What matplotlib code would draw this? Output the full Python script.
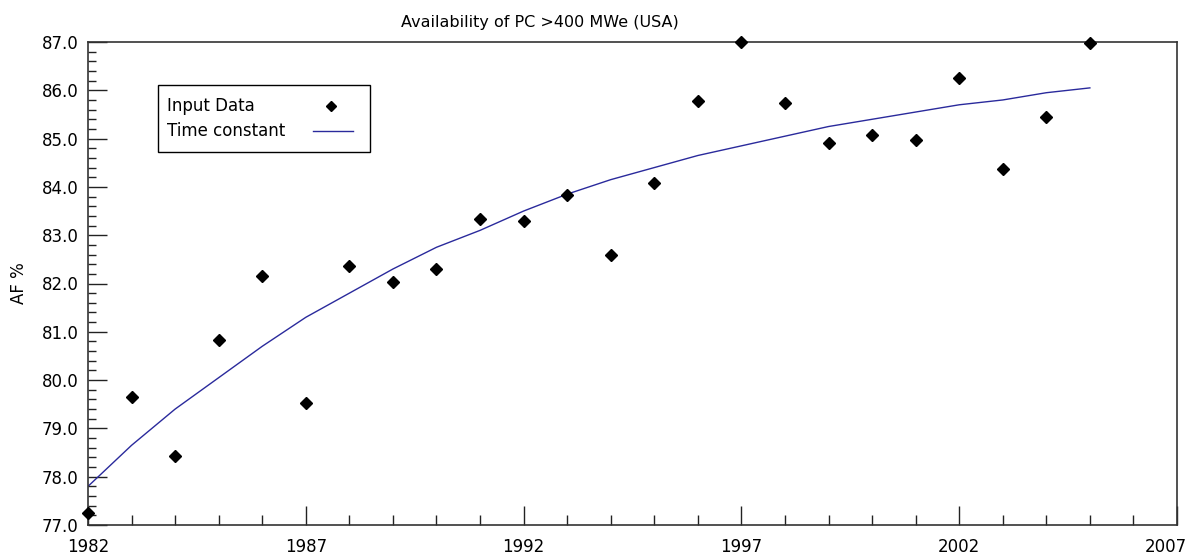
import matplotlib.pyplot as plt
from matplotlib.ticker import MultipleLocator, FormatStrFormatter
from matplotlib.patches import Rectangle
from matplotlib.lines import Line2D
from matplotlib.transforms import ScaledTranslation

# values
years = list(range(1982, 2006))
af_input = [77.25, 79.65, 78.42, 80.83, 82.15, 79.53, 82.36, 82.03, 82.30, 83.33,
            83.29, 83.84, 82.59, 84.08, 85.77, 87.00, 85.74, 84.91, 85.07, 84.97,
            86.25, 84.37, 85.45, 86.98]
af_fit = [77.80, 78.65, 79.40, 80.05, 80.70, 81.30, 81.80, 82.30, 82.75, 83.10,
          83.50, 83.85, 84.15, 84.40, 84.65, 84.85, 85.05, 85.25, 85.40, 85.55,
          85.70, 85.80, 85.95, 86.05]
x_major = [1982, 1987, 1992, 1997, 2002, 2007]
legend_labels = ['Input Data', 'Time constant']

W, H = 1194, 559
plt.rcParams['font.family'] = ['DejaVu Sans']
plt.rcParams['font.size'] = 12

fig = plt.figure(figsize=(W / 100, H / 100), dpi=100)
ax = fig.add_axes([88 / W, 1 - 525 / H, 1089 / W, 483 / H])

line_color = '#2a2a9c'
ax.plot(years, af_input, linestyle='none', marker='D', markersize=6,
        color='black', clip_on=False, zorder=3)
ax.plot(years, af_fit, color=line_color, linewidth=1.0)

ax.set_xlim(1982, 2007)
ax.set_ylim(77, 87)
ax.set_xticks(x_major)
ax.xaxis.set_minor_locator(MultipleLocator(1))
ax.yaxis.set_major_locator(MultipleLocator(1))
ax.yaxis.set_minor_locator(MultipleLocator(0.2))
ax.yaxis.set_major_formatter(FormatStrFormatter('%.1f'))
ax.tick_params(which='both', direction='in', top=False, right=False,
               color='#222222', width=1)
ax.tick_params(axis='y', which='major', length=14, pad=7)
ax.tick_params(axis='y', which='minor', length=6)
ax.tick_params(axis='x', which='major', length=14, pad=9)
ax.tick_params(axis='x', which='minor', length=7)
for sp in ax.spines.values():
    sp.set_color('#333333')
    sp.set_linewidth(1.2)

# last year label sits a bit left of its tick, inside the picture
last = ax.get_xticklabels()[-1]
last.set_transform(last.get_transform() + ScaledTranslation(-0.11, 0, fig.dpi_scale_trans))

ax.set_ylabel('AF %', labelpad=10)
fig.text(540 / W, 1 - 22 / H, 'Availability of PC >400 MWe (USA)',
         ha='center', va='center', fontsize=11.5)

# legend box drawn by hand so the labels sit left and the keys right
def fx(px):
    return px / W

def fy(py):
    return 1 - py / H

fig.patches.append(Rectangle((fx(158), fy(152)), fx(370) - fx(158), fy(85) - fy(152),
                             transform=fig.transFigure, facecolor='white',
                             edgecolor='black', linewidth=1.0, zorder=5))
fig.text(fx(167), fy(106), legend_labels[0], ha='left', va='center', zorder=6)
fig.text(fx(167), fy(131), legend_labels[1], ha='left', va='center', zorder=6)
fig.lines.append(Line2D([fx(331)], [fy(106)], transform=fig.transFigure,
                        marker='D', markersize=5, color='black', linestyle='none', zorder=6))
fig.lines.append(Line2D([fx(313), fx(353)], [fy(131), fy(131)], transform=fig.transFigure,
                        color=line_color, linewidth=1.0, zorder=6))

fig.savefig('out.png', dpi=100)
